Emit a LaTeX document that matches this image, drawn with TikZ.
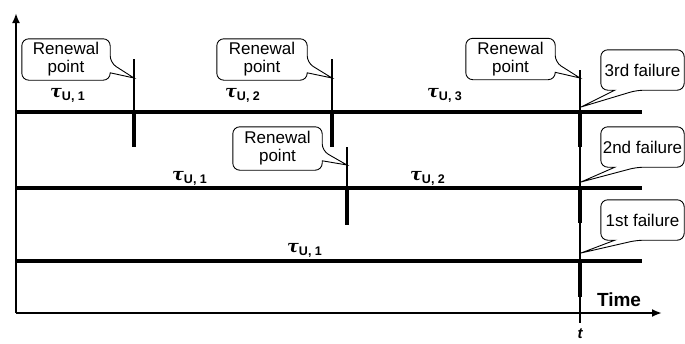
\documentclass[tikz,border=0pt]{standalone}
\usepackage{fontspec}
\setmainfont{Liberation Sans}
\newfontfamily\greekserif{DejaVu Serif}
\usetikzlibrary{calc,arrows.meta}

% duration label: tau with a bold subscript
\newcommand\durlabel[1]{{\greekserif\bfseries\itshape\fontsize{17.5}{18}\selectfont τ}\raisebox{-3pt}{\bfseries\fontsize{12.5}{13}\selectfont U, #1}}

% callout with its pointer leaving the right edge
\newcommand\sidebubble[2]{%
  \draw[bubble] (#1.north) -- (#1.north east) -- ($(#1.north east)+(0,24)$)
    [sharp corners] -- (#2) -- ($(#1.north east)+(0,34)$)
    [rounded corners=7pt] -- (#1.south east) -- (#1.south west) -- (#1.north west) -- cycle;}

% callout with its pointer leaving the bottom edge
\newcommand\lowbubble[2]{%
  \draw[bubble] (#1.north) -- (#1.north east) -- (#1.south east) -- ($(#1.south west)+(36,0)$)
    [sharp corners] -- (#2) -- ($(#1.south west)+(14,0)$)
    [rounded corners=7pt] -- (#1.south west) -- (#1.north west) -- cycle;}

\begin{document}
\begin{tikzpicture}[x=1pt,y=-1pt,
  track/.style={line width=4.5pt},
  thinmark/.style={line width=1.3pt},
  thickmark/.style={line width=4pt},
  axis/.style={line width=2pt,-{Latex[length=10pt,width=8pt]}},
  bubble/.style={line width=0.9pt,rounded corners=7pt},
  bubbletext/.style={font=\fontsize{17}{18}\selectfont,align=center,inner sep=0pt},
  dur/.style={inner sep=0pt,anchor=base west}]
\useasboundingbox (0,0) rectangle (685,343);
\fill[white] (0,0) rectangle (685,343);

% axes
\coordinate (org) at (16,313);
\coordinate (ytop) at (16,13);
\coordinate (xend) at (662,313);
\draw[axis] (org) -- (ytop);
\draw[axis] (org) -- (xend);

% three tracks
\draw[track] (16,112) -- (642,112);
\draw[track] (16,188) -- (642,188);
\draw[track] (16,261) -- (642,261);

% renewal marks
\draw[thinmark] (134,59) -- (134,112);
\draw[thickmark] (134,112) -- (134,147);
\draw[thinmark] (332,59) -- (332,112);
\draw[thickmark] (332,112) -- (332,147);
\draw[thinmark] (347,147) -- (347,188);
\draw[thickmark] (347,188) -- (347,225);

% observation time t
\draw[thinmark] (580,70) -- (580,323);
\draw[thickmark] (580,112) -- (580,147);
\draw[thickmark] (580,188) -- (580,223);
\draw[thickmark] (580,261) -- (580,297);

% pointer tips
\coordinate (tip1) at (134,78);
\coordinate (tip2) at (332,78);
\coordinate (tip3) at (580,78);
\coordinate (tip4) at (347,165);
\coordinate (ftip3) at (581,107);
\coordinate (ftip2) at (581,182);
\coordinate (ftip1) at (581,253);

% callouts
\node[bubbletext,minimum width=88pt,minimum height=41pt] (rp1) at (66,59.5) {Renewal\\point};
\node[bubbletext,minimum width=90pt,minimum height=41pt] (rp2) at (262,59.5) {Renewal\\point};
\node[bubbletext,minimum width=89pt,minimum height=41pt] (rp3) at (510.5,59) {Renewal\\point};
\node[bubbletext,minimum width=89pt,minimum height=43pt] (rp4) at (277.5,148.5) {Renewal\\point};
\sidebubble{rp1}{tip1}
\sidebubble{rp2}{tip2}
\sidebubble{rp3}{tip3}
\sidebubble{rp4}{tip4}

\node[bubbletext,minimum width=83pt,minimum height=40pt] (f3) at (642.5,70) {3rd failure};
\node[bubbletext,minimum width=83pt,minimum height=40pt] (f2) at (642.5,147) {2nd failure};
\node[bubbletext,minimum width=83pt,minimum height=40pt] (f1) at (642.5,220) {1st failure};
\lowbubble{f3}{ftip3}
\lowbubble{f2}{ftip2}
\lowbubble{f1}{ftip1}

% durations
\node[dur] (d31) at (50,97) {\durlabel{1}};
\node[dur] (d32) at (225,97) {\durlabel{2}};
\node[dur] (d33) at (427,97) {\durlabel{3}};
\node[dur] (d21) at (172,180) {\durlabel{1}};
\node[dur] (d22) at (410,180) {\durlabel{2}};
\node[dur] (d11) at (287,252) {\durlabel{1}};

% axis labels
\node[font=\bfseries\fontsize{19}{20}\selectfont,inner sep=0pt] (time) at (619,300) {Time};
\node[font=\bfseries\itshape\fontsize{15}{15}\selectfont,inner sep=0pt] (tlab) at (580,334) {t};
\end{tikzpicture}
\end{document}
